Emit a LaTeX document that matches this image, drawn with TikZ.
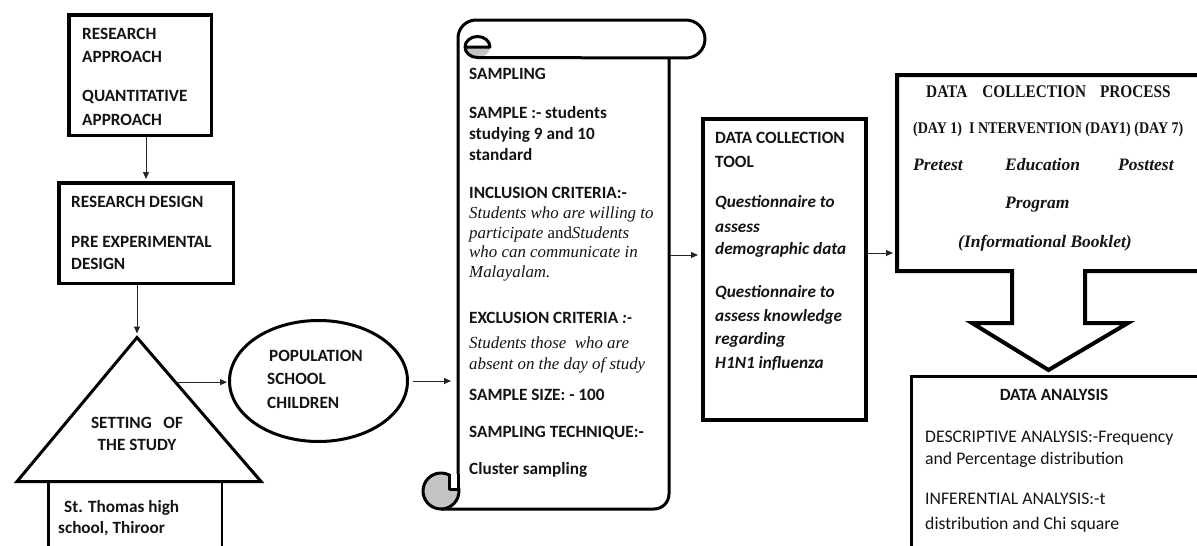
\documentclass[tikz,border=0pt]{standalone}
\usepackage{fontspec}
\setmainfont{Carlito}
\newfontfamily\cambria{Liberation Serif}
\newfontfamily\cambriac[FakeStretch=0.86]{Liberation Serif}
\usetikzlibrary{arrows.meta,shapes.geometric,calc}
\definecolor{curlgray}{HTML}{C4C4C4}
\definecolor{ink}{HTML}{141414}
\begin{document}
\begin{tikzpicture}[x=1pt,y=-1pt,
  boxthick/.style={draw=black,line width=3.5pt,inner sep=0pt},
  conn/.style={draw=black!85,line width=1pt,-{Triangle[length=7pt,width=6pt]}},
  txt/.style={anchor=base west,inner sep=0pt,text=ink},
  cb/.style={txt,font=\fontsize{17.2}{20}\selectfont\bfseries},
  cbc/.style={cb,anchor=base},
  cr/.style={txt,font=\fontsize{17.7}{20}\selectfont},
  cbi/.style={txt,font=\fontsize{17.2}{20}\selectfont\bfseries\itshape},
  si/.style={txt,font=\fontsize{16.9}{20}\selectfont\cambria\itshape},
  sbi/.style={txt,font=\fontsize{17.5}{20}\selectfont\cambria\bfseries\itshape},
  sbc/.style={txt,font=\fontsize{17.8}{20}\selectfont\cambriac\bfseries},
  sbcs/.style={txt,font=\fontsize{16.3}{20}\selectfont\cambriac\bfseries},
  scroll/.style={draw=black,line width=3pt,line join=round}
]
\useasboundingbox (0,0) rectangle (1197,546);
\clip (0,0) rectangle (1197,546);

% ---------------- left column ----------------
\node[boxthick,minimum width=142.5pt,minimum height=120.5pt] (ra) at (140,75) {};
\node[cb] (ra1) at (82,39) {RESEARCH};
\node[cb] (ra2) at (82,62) {APPROACH};
\node[cb] (ra3) at (82,101) {QUANTITATIVE};
\node[cb] (ra4) at (82,125) {APPROACH};

\node[boxthick,minimum width=174.5pt,minimum height=100.5pt] (rd) at (146,233) {};
\node[cb] (rd1) at (71,207) {RESEARCH DESIGN};
\node[cb] (rd2) at (71,247) {PRE EXPERIMENTAL};
\node[cb] (rd3) at (71,269) {DESIGN};

% setting triangle
\coordinate (tapex) at (137,337.5);
\coordinate (tbl) at (17,481.5);
\coordinate (tbr) at (261,481.5);
\draw[line width=3pt] (tapex) -- (tbr) -- (tbl) -- cycle;
\coordinate (tside) at ($(tapex)!0.31!(tbr)$);
\node[cbc] (st1) at (137,428) {SETTING\ \ \ OF};
\node[cbc] (st2) at (137,450) {THE STUDY};

\node[draw=black,line width=2.5pt,minimum width=173.5pt,minimum height=78.5pt,inner sep=0pt] (sch) at (135,520.75) {};
\node[cb] (sch1) at (64,512) {St. Thomas high};
\node[cb] (sch2) at (58,533) {school, Thiroor};

% population ellipse
\node[ellipse,draw=black,line width=3pt,minimum width=178pt,minimum height=121pt,inner sep=0pt] (ell) at (318.5,381) {};
\node[cb] (po1) at (269,361) {POPULATION};
\node[cb] (po2) at (267,384) {SCHOOL};
\node[cb] (po3) at (267,408) {CHILDREN};

% ---------------- scroll ----------------
\path[fill=curlgray] (465,47) -- (490,47) arc[start angle=0,end angle=180,x radius=12.5,y radius=10.5] -- cycle;
\draw[scroll] (458,488) -- (458,38) arc[start angle=180,end angle=270,radius=18]
  -- (686,20) arc[start angle=-90,end angle=90,radius=19]
  -- (477.5,57.5) arc[start angle=90,end angle=360,x radius=12.5,y radius=10.5] -- (465,47);
\draw[scroll] (669,58) -- (669,494) arc[start angle=0,end angle=90,radius=15] -- (441,509);
\filldraw[scroll,fill=curlgray] (441,491) circle[radius=18];
\filldraw[scroll,fill=white] (449,474) -- (449,489) -- (458,489) -- (458,474);
\coordinate (scrollW) at (458,376);
\coordinate (scrollE) at (669,255);

\node[cb] (s1) at (469,79) {SAMPLING};
\node[cb] (s2) at (469,118) {SAMPLE :- students};
\node[cb] (s3) at (469,139) {studying 9 and 10};
\node[cb] (s4) at (469,160) {standard};
\node[cb] (s5) at (469,198) {INCLUSION CRITERIA:-};
\node[si] (s6) at (469,218) {Students who are willing to};
\node[si] (s7) at (469,238) {participate {\upshape and}Students};
\node[si] (s8) at (469,257) {who can communicate in};
\node[si] (s9) at (469,277) {Malayalam.};
\node[cb] (s10) at (469,323) {EXCLUSION CRITERIA {\itshape:-}};
\node[si] (s11) at (469,348) {Students those\ \ who are};
\node[si] (s12) at (469,369) {absent on the day of study};
\node[cb] (s13) at (469,400) {SAMPLE SIZE: - 100};
\node[cb] (s14) at (469,437) {SAMPLING TECHNIQUE:-};
\node[cb] (s15) at (469,474) {Cluster sampling};

% ---------------- data collection tool ----------------
\node[draw=black,line width=4pt,minimum width=163pt,minimum height=301pt,inner sep=0pt] (tool) at (784.5,269.5) {};
\node[cb] (t1) at (715,143) {DATA COLLECTION};
\node[cb] (t2) at (715,167) {TOOL};
\node[cbi] (t3) at (715,207) {Questionnaire to};
\node[cbi] (t4) at (715,232) {assess};
\node[cbi] (t5) at (715,254) {demographic data};
\node[cbi] (t6) at (715,297) {Questionnaire to};
\node[cbi] (t7) at (715,321) {assess knowledge};
\node[cbi] (t8) at (715,344) {regarding};
\node[cbi] (t9) at (715,368) {H1N1 influenza};

% ---------------- data collection process ----------------
\draw[line width=4pt] (897,75) -- (1215,75) -- (1215,271) -- (1085,271) -- (1085,323)
  -- (1128,323) -- (1048.5,370) -- (972,323) -- (1012,323) -- (1012,271) -- (897,271) -- cycle;
\coordinate (procW) at (895,253);
\node[sbc] (p1) at (926,97) {DATA\hspace{15pt}COLLECTION\hspace{14pt}PROCESS};
\node[sbcs] (p2) at (913,133) {(DAY 1)\ \ I NTERVENTION (DAY1) (DAY 7)};
\node[sbi] (p3) at (913,170) {Pretest};
\node[sbi] (p4) at (1005,170) {Education};
\node[sbi] (p5) at (1118,170) {Posttest};
\node[sbi] (p6) at (1005,208) {Program};
\node[sbi,anchor=base] (p7) at (1045,247) {(Informational Booklet)};

% ---------------- data analysis ----------------
\node[draw=black,line width=3pt,minimum width=303.5pt,minimum height=183.5pt,inner sep=0pt] (da) at (1063.25,468.25) {};
\node[cbc] (d1) at (1054,400) {DATA ANALYSIS};
\node[cr] (d2) at (925,442) {DESCRIPTIVE ANALYSIS:-Frequency};
\node[cr] (d3) at (925,464) {and Percentage distribution};
\node[cr] (d4) at (925,504) {INFERENTIAL ANALYSIS:-t};
\node[cr] (d5) at (925,529) {distribution and Chi square};

% ---------------- connectors ----------------
\draw[conn,shorten >=2pt] (ra.south -| rd.north) -- (rd.north);
\draw[conn,shorten >=4pt] (rd.south -| tapex) -- (tapex);
\draw[conn,shorten >=1pt] (tside) -- (tside -| ell.west);
\draw[conn,shorten >=7pt,shorten <=4pt] (ell.east) -- (ell.east -| scrollW);
\draw[conn,shorten >=3pt,shorten <=1pt] (scrollE) -- (scrollE -| tool.west);
\draw[conn,shorten >=2pt] (tool.east |- procW) -- (procW);
\end{tikzpicture}
\end{document}
